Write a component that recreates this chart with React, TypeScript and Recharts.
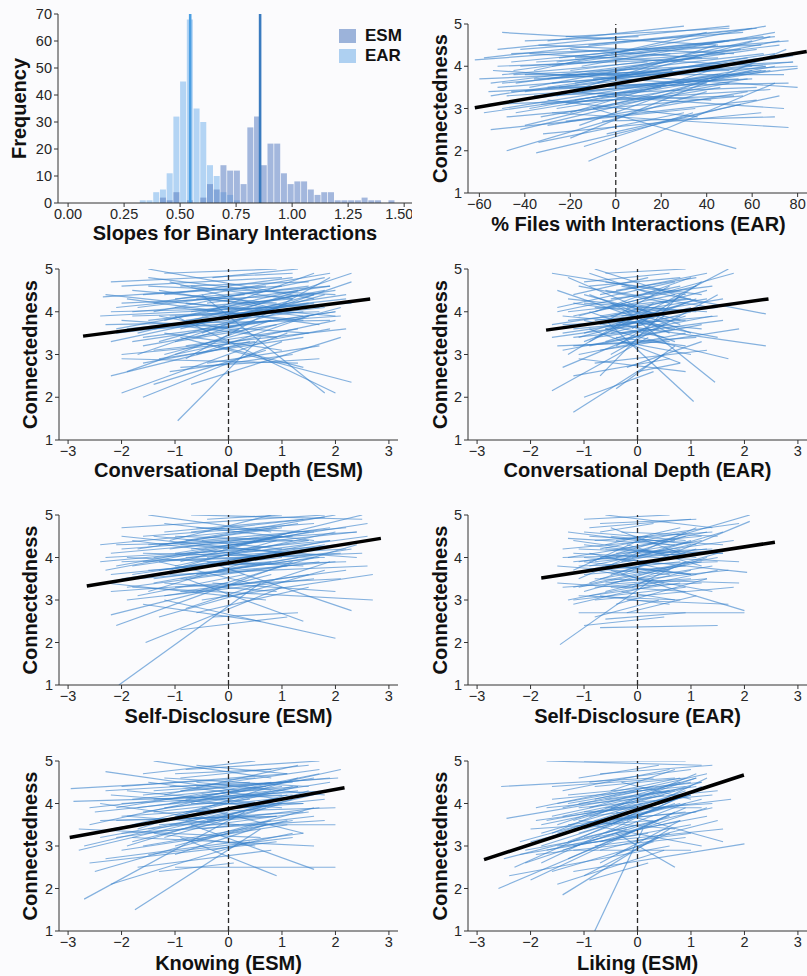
import React from "react";
import {
  ComposedChart,
  Bar,
  Line,
  XAxis,
  YAxis,
  ReferenceLine,
  Label,
} from "recharts";

const FONT = '"Liberation Sans", Arial, Helvetica, sans-serif';

// ---- histogram of person slopes (bin width 0.03) ----
const binMids = [
  0.335, 0.365, 0.395, 0.425, 0.455, 0.485, 0.515, 0.545, 0.575, 0.605,
  0.635, 0.665, 0.695, 0.725, 0.755, 0.785, 0.815, 0.845, 0.875, 0.905,
  0.935, 0.965, 0.995, 1.025, 1.055, 1.085, 1.115, 1.145, 1.175, 1.205,
  1.235, 1.265, 1.295, 1.325, 1.355, 1.385, 1.415, 1.445,
];
const esmFreq = [
  0, 0, 0, 2, 1, 4, 0, 1, 0, 2,
  7, 5, 14, 12, 12, 7, 28, 32, 14, 22,
  22, 11, 7, 8, 8, 5, 3, 4, 4, 1,
  1, 1, 1, 2, 1, 1, 0, 1,
];
const earFreq = [
  1, 1, 4, 5, 11, 32, 45, 68, 35, 30,
  14, 10, 4, 3, 1, 0, 0, 0, 0, 0,
  0, 0, 0, 0, 0, 0, 0, 0, 0, 0,
  0, 0, 0, 0, 0, 0, 0, 0,
];
const esmMeanSlope = 0.857;
const earMeanSlope = 0.545;
const freqTicks = [0, 10, 20, 30, 40, 50, 60, 70];
const slopeTicks = [0, 0.25, 0.5, 0.75, 1, 1.25, 1.5];

const centeredTicks = [-3, -2, -1, 0, 1, 2, 3];
const pctTicks = [-60, -40, -20, 0, 20, 40, 60, 80];
const connTicks = [1, 2, 3, 4, 5];

// person-level fitted lines: [x start, y start, x end, y end]
const filesEarLines = [
  [-58, 4.2, 62, 4.9], [-50, 4.8, 45, 4.5], [-55, 3.3, 70, 4.3], [-45, 3.8, 78, 4.1],
  [-40, 2.6, 60, 3.9], [-48, 2.0, 40, 3.4], [-35, 1.95, 55, 3.1], [-12, 1.75, 70, 3.6],
  [-20, 2.3, 75, 4.4], [-60, 3.7, 25, 3.9], [-52, 4.4, 50, 4.95], [-30, 4.6, 30, 4.95],
  [-25, 4.2, 65, 4.7], [-44, 3.2, 80, 3.95], [-38, 3.5, 72, 4.6], [-55, 2.5, 35, 3.0],
  [-10, 3.0, 53, 2.05], [-28, 2.9, 76, 2.55], [-33, 3.1, 68, 3.45], [-18, 3.6, 58, 4.2],
  [-42, 4.0, 48, 4.3], [-50, 3.0, 66, 4.0], [-22, 2.7, 62, 3.2], [-8, 3.3, 74, 3.0],
  [-36, 3.9, 40, 4.8], [-46, 3.4, 54, 3.7], [-15, 4.0, 70, 4.8], [-26, 3.3, 44, 4.5],
  [-58, 2.9, 20, 3.5], [-32, 2.4, 64, 2.9], [-4, 3.8, 80, 3.5], [-40, 4.6, 10, 4.7],
  [-54, 3.9, 30, 3.6], [-24, 3.8, 50, 3.9], [-16, 2.6, 46, 3.8], [-2, 4.3, 66, 4.95],
  [-30, 3.2, 36, 2.8], [-48, 2.8, 56, 3.3], [-12, 3.5, 78, 4.25], [-62, 4.15, 0, 4.4],
  [-20, 4.4, 38, 4.2], [-34, 2.2, 30, 2.9], [-6, 2.7, 70, 2.8], [-44, 3.6, 62, 4.4],
  [-26, 3.0, 58, 3.7], [-52, 3.5, 42, 3.9], [0, 3.9, 60, 4.6], [-38, 4.3, 66, 4.0],
  [-14, 2.1, 34, 2.9], [-56, 3.1, 52, 3.3], [-28, 4.0, 24, 4.3], [-10, 3.0, 46, 3.5],
  [-42, 2.5, 20, 3.3], [-22, 4.7, 50, 4.9], [-4, 2.4, 72, 3.3], [-46, 4.1, 70, 4.7],
  [-36, 3.7, 80, 4.0], [-18, 3.2, 64, 3.9], [-50, 3.8, 14, 4.1], [-30, 3.5, 76, 3.6],
  [-50, 3.6, 60, 4.1], [-40, 3.4, 70, 4.2], [-35, 4.1, 55, 4.4], [-30, 3.7, 65, 4.3],
  [-25, 3.5, 60, 4.0], [-45, 3.9, 50, 4.6], [-20, 3.9, 72, 4.5], [-38, 3.0, 45, 3.8],
  [-28, 3.6, 78, 4.1], [-48, 3.3, 40, 3.6], [-15, 3.4, 66, 3.9], [-42, 4.4, 56, 4.8],
  [-33, 2.8, 50, 3.6], [-22, 3.1, 70, 4.0], [-55, 3.6, 35, 4.2], [-10, 3.7, 80, 4.3],
  [-36, 3.3, 62, 3.5], [-26, 4.1, 48, 4.6], [-44, 2.9, 68, 3.9], [-18, 4.2, 76, 4.6],
  [-52, 4.0, 45, 4.2], [-30, 2.6, 58, 3.4], [-12, 4.5, 60, 4.9], [-40, 3.8, 74, 3.8],
  [-24, 3.4, 42, 3.2], [-46, 4.3, 64, 4.5], [-8, 3.6, 68, 4.7], [-34, 4.5, 52, 4.3],
  [-20, 2.9, 54, 4.1], [-56, 3.4, 60, 3.7],
];
const depthEsmLines = [
  [-2.2, 4.7, 1.2, 4.9], [-2.1, 3.6, 1.8, 4.5], [-1.9, 2.6, 0.8, 3.8], [-2.0, 2.1, 1.1, 3.5],
  [-1.6, 2.0, 1.0, 3.3], [-0.95, 1.45, 0.6, 3.4], [-2.3, 4.4, 1.4, 3.9], [-1.5, 5.0, 1.6, 4.3],
  [-1.2, 4.9, 0.9, 5.0], [-2.4, 3.9, 2.3, 4.2], [-1.8, 3.3, 2.0, 4.0], [-0.8, 2.9, 1.9, 4.8],
  [-1.4, 3.1, 2.2, 3.6], [-2.0, 3.0, 0.5, 3.3], [-0.6, 3.7, 2.3, 4.9], [-1.3, 4.5, 0.7, 4.1],
  [-0.5, 4.4, 1.8, 2.1], [-1.0, 3.9, 2.0, 2.1], [-0.9, 3.4, 2.3, 2.35], [-1.7, 4.1, 1.5, 4.6],
  [-2.1, 4.1, 0.3, 4.4], [-0.4, 4.0, 1.6, 4.9], [-1.1, 2.6, 1.2, 3.0], [-1.6, 2.8, 1.9, 3.6],
  [-0.7, 2.3, 2.1, 3.4], [-1.2, 3.5, 1.0, 3.1], [-2.2, 3.3, 0.8, 4.1], [-0.3, 4.8, 1.3, 5.0],
  [-1.5, 3.8, 2.2, 4.3], [-1.9, 4.3, 1.7, 3.7], [-0.8, 4.2, 2.0, 3.9], [-1.4, 2.3, 0.7, 3.1],
  [-0.2, 3.2, 1.4, 2.7], [-1.1, 4.7, 1.1, 4.0], [-2.0, 4.6, 1.0, 4.8], [-0.6, 3.0, 1.5, 3.9],
  [-1.3, 3.9, 0.4, 3.5], [-1.7, 3.5, 1.3, 4.4], [-0.9, 2.7, 1.7, 2.9], [-2.3, 3.7, 1.9, 3.8],
  [-0.5, 3.5, 2.3, 4.7], [-1.0, 4.3, 1.9, 4.6], [-1.6, 3.2, 0.2, 3.6], [-0.7, 4.6, 1.2, 4.3],
  [-1.2, 3.0, 2.1, 4.1], [-2.2, 2.5, 0.4, 3.3], [-0.4, 2.8, 1.7, 3.2], [-1.8, 3.9, 0.9, 4.0],
  [-1.4, 4.0, 1.8, 4.8], [-0.3, 3.6, 2.0, 4.0], [-2.0, 2.9, 1.3, 2.8], [-1.0, 3.3, 0.9, 3.7],
  [-1.5, 4.6, 2.0, 4.4], [-0.8, 3.8, 1.6, 4.2], [-2.35, 4.35, 0.7, 4.6],
  [-1.5, 3.6, 1.5, 4.2], [-1.2, 3.8, 1.3, 4.5], [-1.8, 4.0, 1.2, 4.3], [-0.9, 3.6, 1.6, 4.4],
  [-1.6, 4.4, 1.0, 4.6], [-1.0, 4.1, 1.4, 3.8], [-2.0, 3.8, 1.5, 3.5], [-0.7, 4.0, 2.0, 4.5],
  [-1.3, 3.3, 1.8, 4.4], [-1.7, 3.0, 1.1, 4.2], [-0.6, 4.3, 1.7, 4.1], [-1.4, 4.2, 1.9, 4.9],
  [-1.1, 3.7, 0.9, 3.4], [-2.1, 3.5, 1.4, 4.0], [-0.8, 3.2, 1.3, 3.6], [-1.5, 4.8, 0.5, 4.5],
  [-1.9, 3.6, 1.8, 4.1], [-0.5, 3.9, 2.2, 4.4], [-1.2, 4.4, 1.2, 4.8], [-1.6, 3.4, 0.8, 3.8],
  [-1.0, 3.0, 2.0, 3.8], [-2.2, 4.0, 1.0, 4.1], [-0.9, 4.6, 1.5, 4.7], [-1.4, 3.6, 2.1, 3.9],
  [-0.6, 3.4, 1.0, 4.0], [-1.8, 4.5, 0.9, 4.2], [-1.1, 3.9, 1.7, 4.0], [-0.4, 4.2, 1.9, 4.6],
  [-1.3, 2.9, 1.4, 3.4], [-2.0, 4.2, 1.6, 4.4],
];
const depthEarLines = [
  [-1.6, 4.9, 0.9, 4.4], [-1.6, 2.15, 0.2, 3.4], [-1.2, 1.65, 0.5, 3.0], [-1.0, 2.0, 0.3, 2.6],
  [-0.6, 3.8, 1.05, 1.9], [-0.2, 4.0, 1.45, 2.35], [-1.5, 4.5, 0.6, 3.6], [-1.3, 4.8, 0.4, 3.9],
  [-0.8, 5.0, 1.2, 4.2], [-0.6, 4.9, 0.9, 5.0], [-1.1, 3.9, 1.8, 4.9], [-0.9, 3.3, 1.7, 5.0],
  [-1.4, 3.5, 0.8, 3.9], [-0.5, 3.0, 1.5, 4.4], [-1.0, 4.2, 1.3, 4.0], [-0.3, 4.6, 2.4, 3.95],
  [-0.4, 3.7, 2.4, 3.2], [-1.4, 2.7, 0.5, 3.7], [-0.7, 2.5, 0.8, 4.4], [-1.2, 3.2, 1.1, 3.4],
  [-0.6, 3.6, 1.7, 2.9], [-1.5, 4.1, 0.7, 4.7], [-0.2, 2.7, 1.2, 3.3], [-0.9, 4.4, 1.0, 3.5],
  [-1.3, 3.0, 0.3, 4.2], [-0.5, 4.3, 1.4, 4.6], [-1.1, 2.9, 0.9, 2.6], [-0.8, 3.4, 1.6, 3.8],
  [-1.6, 3.7, 0.5, 4.1], [-0.3, 3.3, 1.0, 3.0], [-1.0, 4.7, 0.6, 4.9], [-0.7, 3.9, 1.3, 4.3],
  [-1.2, 4.4, 0.2, 4.8], [-0.4, 2.2, 0.7, 3.2], [-0.9, 3.6, 0.8, 2.8], [-1.4, 3.9, 1.2, 3.6],
  [-0.6, 4.1, 1.1, 4.6], [-0.2, 3.8, 1.5, 3.4], [-1.1, 3.4, 0.4, 3.9], [-0.8, 2.8, 1.3, 3.1],
  [-1.3, 4.0, 0.9, 4.3], [-0.5, 3.5, 1.0, 4.0], [-0.9, 4.9, 0.3, 4.4], [-1.5, 3.2, 0.6, 3.3],
  [-0.3, 4.2, 0.8, 3.7], [-0.7, 3.1, 1.9, 3.6], [-1.0, 3.8, 0.5, 3.4], [-0.1, 3.6, 1.2, 4.7],
  [-1.2, 2.5, 0.6, 2.9], [-0.6, 4.5, 1.4, 4.1], [-1.6, 3.4, 0.1, 3.7], [0.0, 2.6, 0.8, 2.8],
  [-0.8, 4.0, 1.0, 4.8], [-0.4, 3.2, 0.5, 3.9], [-1.2, 3.6, 1.5, 3.9],
  [-1.0, 3.5, 0.9, 4.2], [-0.8, 4.1, 1.1, 4.0], [-1.2, 3.9, 0.7, 4.4], [-0.6, 3.3, 0.9, 3.9],
  [-1.3, 4.3, 1.0, 4.0], [-0.5, 3.9, 1.3, 4.5], [-1.1, 4.6, 0.6, 4.2], [-0.9, 3.2, 1.2, 3.7],
  [-0.4, 4.5, 1.1, 4.8], [-1.4, 3.7, 0.9, 3.8], [-0.7, 3.7, 0.6, 4.6], [-1.0, 4.4, 0.8, 3.8],
  [-0.3, 3.5, 1.4, 3.9], [-1.2, 3.4, 0.4, 3.6], [-0.6, 4.7, 1.2, 4.4], [-0.9, 4.0, 0.7, 3.3],
  [-1.5, 4.0, 0.8, 4.6], [-0.2, 4.1, 1.0, 4.3], [-1.1, 3.0, 0.9, 3.5], [-0.8, 3.8, 1.5, 4.1],
  [-0.5, 4.2, 0.6, 3.5], [-1.3, 3.8, 0.6, 4.0], [-0.7, 4.4, 1.3, 4.9], [-1.0, 3.3, 1.1, 4.3],
  [-0.4, 3.4, 0.9, 3.2], [-1.2, 4.2, 0.5, 3.9], [-0.6, 3.6, 1.0, 4.1], [-0.9, 4.6, 0.8, 4.8],
  [-1.4, 3.1, 0.7, 3.6], [-0.3, 3.9, 1.6, 4.3],
];
const discEsmLines = [
  [-2.05, 1.0, 0.6, 3.4], [-1.55, 2.0, 1.0, 3.3], [-2.2, 2.65, 0.8, 3.6], [-2.1, 2.4, 1.2, 3.9],
  [-2.3, 3.7, 1.5, 4.6], [-2.4, 4.3, 0.9, 4.7], [-2.0, 4.7, 1.8, 5.0], [-1.5, 5.0, 0.8, 4.6],
  [-0.7, 5.0, 2.5, 4.9], [-1.0, 4.1, 2.6, 4.8], [-1.8, 3.3, 2.7, 3.0], [-1.2, 3.0, 2.0, 2.1],
  [-0.8, 3.5, 1.4, 2.5], [-0.4, 3.9, 2.3, 2.75], [-1.6, 3.9, 2.5, 4.1], [-2.2, 4.1, 0.5, 4.4],
  [-1.3, 2.6, 1.8, 3.7], [-0.9, 2.3, 1.1, 2.6], [-1.9, 3.0, 1.6, 3.5], [-0.6, 3.2, 2.4, 4.3],
  [-1.4, 4.5, 1.0, 4.2], [-2.0, 3.5, 0.2, 3.9], [-0.5, 4.4, 2.2, 4.7], [-1.1, 3.6, 2.6, 3.8],
  [-1.7, 4.2, 1.3, 4.8], [-0.3, 3.4, 2.0, 3.2], [-1.2, 4.8, 1.6, 4.4], [-2.3, 3.4, 0.7, 3.0],
  [-0.8, 2.8, 1.9, 3.9], [-1.5, 3.2, 0.9, 4.1], [-0.4, 4.0, 2.6, 4.5], [-1.9, 4.0, 1.4, 3.8],
  [-1.0, 3.3, 2.1, 3.5], [-0.7, 4.6, 1.8, 4.95], [-1.6, 2.9, 0.6, 2.5], [-2.1, 3.8, 1.0, 4.5],
  [-0.2, 3.7, 2.3, 4.2], [-1.3, 3.9, 0.4, 3.4], [-0.9, 4.3, 2.4, 4.0], [-1.8, 3.6, 2.0, 4.3],
  [-0.6, 2.7, 1.5, 3.3], [-1.1, 4.4, 0.8, 5.0], [-2.0, 4.5, 1.1, 4.1], [-0.5, 3.0, 2.7, 3.6],
  [-1.4, 3.5, 1.7, 4.0], [-0.3, 2.6, 1.3, 2.7], [-1.7, 3.1, 0.3, 3.6], [-0.9, 3.9, 1.2, 4.6],
  [-2.4, 3.9, 1.9, 4.4], [-0.1, 4.2, 2.5, 5.0], [-1.2, 3.4, 0.9, 3.2], [-0.7, 3.8, 2.2, 3.9],
  [-1.5, 4.3, 2.4, 4.6], [-2.2, 3.2, 0.0, 3.4], [-0.4, 4.9, 1.0, 5.0],
  [-1.8, 3.8, 1.5, 4.4], [-1.3, 3.7, 1.8, 4.3], [-2.0, 4.2, 1.2, 4.5], [-1.0, 3.8, 2.0, 4.6],
  [-1.6, 4.5, 1.6, 4.8], [-0.8, 4.0, 2.2, 4.2], [-1.4, 3.4, 1.3, 4.0], [-2.2, 3.6, 1.0, 4.0],
  [-1.1, 4.2, 1.9, 4.7], [-0.6, 3.6, 1.6, 4.0], [-1.7, 3.5, 2.0, 3.9], [-1.2, 4.6, 1.4, 4.9],
  [-0.9, 3.5, 1.7, 3.9], [-2.1, 4.3, 1.5, 4.4], [-1.5, 3.7, 0.8, 3.9], [-0.7, 4.2, 2.4, 4.6],
  [-1.9, 3.3, 1.1, 3.8], [-1.0, 4.5, 1.2, 4.4], [-1.4, 4.0, 2.3, 4.3], [-0.5, 3.8, 1.9, 4.4],
  [-2.3, 4.0, 0.6, 4.2], [-1.2, 3.1, 1.5, 3.6], [-0.8, 4.4, 2.0, 5.0], [-1.6, 4.1, 1.8, 4.0],
  [-1.1, 3.7, 0.9, 4.4], [-0.6, 4.7, 1.6, 4.6], [-1.8, 4.4, 0.7, 4.0], [-0.9, 3.2, 2.2, 3.7],
  [-1.3, 4.3, 1.0, 4.7], [-2.0, 3.9, 2.1, 4.1],
];
const discEarLines = [
  [-1.45, 1.95, 0.3, 3.5], [-0.7, 2.35, 1.5, 2.4], [-0.6, 2.55, 0.9, 2.7], [-1.1, 2.7, 2.0, 2.7],
  [-1.3, 4.45, 0.7, 4.3], [-1.0, 4.9, 0.6, 5.0], [-0.6, 5.0, 1.4, 4.7], [-0.9, 3.9, 2.1, 5.0],
  [-0.3, 3.6, 2.1, 4.85], [-1.2, 4.1, 1.9, 3.9], [-1.4, 3.3, 1.0, 3.5], [-0.8, 3.0, 1.8, 3.3],
  [-0.5, 3.7, 2.0, 2.75], [-1.3, 3.6, 0.8, 4.2], [-0.2, 4.3, 1.2, 3.8], [-1.0, 3.2, 1.5, 4.1],
  [-0.7, 4.2, 0.9, 4.6], [-1.5, 3.8, 0.6, 3.6], [-0.4, 2.9, 1.3, 3.5], [-1.1, 3.5, 1.1, 4.7],
  [-0.9, 4.5, 1.6, 4.3], [-0.3, 3.2, 0.7, 3.0], [-1.2, 2.9, 0.5, 3.4], [-0.6, 3.4, 1.7, 3.7],
  [-0.1, 4.0, 1.0, 4.4], [-1.0, 4.0, 0.4, 3.9], [-0.8, 3.7, 1.4, 3.2], [-1.4, 4.2, 1.2, 4.5],
  [-0.5, 4.7, 0.8, 4.1], [-0.2, 2.7, 1.1, 3.1], [-1.1, 3.9, 1.8, 4.4], [-0.7, 3.1, 0.6, 2.9],
  [-1.3, 3.0, 1.5, 3.7], [-0.4, 4.4, 1.9, 4.8], [-0.9, 3.4, 0.5, 4.0], [-0.6, 4.0, 2.05, 3.65],
  [-1.2, 3.7, 0.2, 4.5], [0.0, 3.5, 1.3, 4.0], [-0.8, 2.6, 0.4, 3.0], [-1.0, 4.3, 1.1, 4.0],
  [-0.3, 3.9, 1.6, 4.6], [-1.5, 3.4, 0.9, 3.2], [-0.5, 3.3, 1.2, 3.4], [-0.9, 4.7, 1.0, 4.9],
  [-0.2, 3.0, 1.7, 2.9], [-1.2, 3.3, 0.7, 3.8], [-0.6, 3.8, 1.0, 3.6], [-1.0, 2.4, 0.5, 2.6],
  [-0.4, 4.1, 1.4, 4.2], [-0.7, 4.6, 0.3, 4.8], [-1.4, 4.0, 1.6, 4.1], [-0.1, 3.3, 0.9, 3.9],
  [-0.8, 3.5, 1.9, 3.4], [-1.1, 3.1, 0.8, 3.0], [-0.3, 4.6, 1.5, 4.5],
  [-0.9, 3.8, 1.0, 4.3], [-0.7, 4.0, 1.2, 4.4], [-1.1, 4.2, 0.9, 4.1], [-0.5, 3.6, 1.1, 4.2],
  [-1.2, 3.9, 1.3, 4.2], [-0.6, 4.3, 0.8, 4.7], [-1.0, 3.6, 0.9, 3.8], [-0.8, 4.4, 1.4, 4.6],
  [-0.4, 3.8, 1.0, 3.6], [-1.3, 4.0, 0.7, 4.4], [-0.7, 3.5, 1.5, 4.0], [-0.9, 4.1, 0.6, 3.7],
  [-1.1, 3.3, 1.2, 3.9], [-0.5, 4.5, 1.1, 4.3], [-0.8, 3.9, 1.7, 4.2], [-1.4, 3.6, 0.8, 3.9],
  [-0.3, 4.2, 1.3, 4.6], [-1.0, 4.6, 0.9, 4.4], [-0.6, 3.2, 1.0, 3.7], [-1.2, 4.4, 0.5, 4.1],
  [-0.8, 3.3, 1.3, 3.5], [-0.4, 4.0, 0.9, 4.5], [-1.1, 3.8, 1.5, 3.9], [-0.7, 4.8, 1.1, 4.9],
  [-0.9, 3.1, 0.8, 3.4], [-1.3, 4.6, 0.6, 4.3], [-0.5, 3.4, 1.4, 3.8], [-1.0, 3.9, 1.1, 3.6],
  [-0.6, 4.2, 1.6, 4.1], [-1.2, 3.0, 0.9, 3.3],
];
const knowEsmLines = [
  [-2.95, 4.35, 0.5, 4.6], [-2.7, 1.75, 0.3, 3.8], [-1.75, 1.5, 0.6, 3.4], [-1.0, 2.5, 2.0, 2.5],
  [-0.7, 3.5, 1.6, 2.45], [-0.9, 3.2, 0.9, 2.3], [-2.8, 2.9, 1.2, 4.1], [-2.5, 2.4, 0.8, 3.6],
  [-2.2, 2.1, 0.4, 3.1], [-2.9, 4.05, 1.0, 4.2], [-2.3, 4.75, 0.2, 4.3], [-1.4, 5.0, 0.8, 4.6],
  [-0.8, 4.8, 1.7, 5.0], [-1.2, 4.2, 1.3, 4.9], [-2.6, 3.5, 2.1, 4.8], [-1.9, 3.0, 1.5, 4.3],
  [-2.0, 4.4, 1.1, 4.7], [-1.6, 3.8, 1.9, 4.5], [-2.4, 3.2, 0.6, 3.9], [-1.1, 3.5, 2.0, 3.5],
  [-0.5, 3.9, 1.4, 3.3], [-1.5, 2.8, 1.2, 3.2], [-2.1, 3.6, 0.9, 3.7], [-1.3, 2.4, 0.1, 2.6],
  [-0.6, 4.5, 1.8, 4.2], [-2.7, 3.0, 0.0, 3.8], [-1.8, 4.1, 0.7, 4.4], [-1.0, 3.0, 1.6, 3.9],
  [-2.2, 4.2, 1.0, 3.9], [-0.4, 3.6, 1.9, 4.3], [-1.4, 3.3, 0.5, 3.0], [-2.5, 3.8, 1.3, 4.3],
  [-1.7, 2.5, 0.8, 2.9], [-0.9, 4.6, 1.5, 4.9], [-2.0, 3.3, 1.8, 3.6], [-1.2, 3.9, 0.4, 4.1],
  [-2.8, 3.4, 0.6, 3.2], [-0.7, 3.1, 1.1, 3.6], [-1.5, 4.5, 1.0, 4.1], [-2.3, 2.7, 1.4, 3.3],
  [-1.1, 4.0, 1.7, 4.7], [-0.3, 2.9, 1.2, 3.3], [-1.9, 3.7, 0.2, 3.5], [-2.6, 2.6, 0.9, 3.1],
  [-0.8, 3.8, 2.0, 3.9], [-1.6, 4.7, 0.5, 5.0], [-1.3, 3.6, 1.4, 3.8], [-2.1, 3.9, 0.8, 4.5],
  [-0.5, 4.2, 1.3, 4.4], [-1.8, 3.2, 1.6, 3.0], [-2.4, 4.0, -0.2, 3.6], [-1.0, 2.8, 0.7, 3.5],
  [-0.6, 4.9, 1.1, 4.7], [-2.0, 2.9, 1.1, 3.5], [-1.4, 4.3, 2.05, 4.6],
  [-1.8, 3.5, 1.2, 4.4], [-1.4, 3.8, 1.5, 4.2], [-2.2, 3.4, 0.9, 4.1], [-1.0, 3.7, 1.3, 4.4],
  [-1.6, 4.2, 1.0, 4.5], [-0.8, 4.1, 1.6, 4.6], [-2.0, 3.7, 1.4, 4.0], [-1.2, 3.2, 1.0, 4.0],
  [-0.6, 3.8, 1.8, 4.1], [-1.7, 3.9, 0.8, 4.3], [-2.4, 3.6, 0.5, 3.7], [-1.1, 4.4, 1.2, 4.5],
  [-1.5, 3.4, 1.7, 3.9], [-0.9, 4.3, 1.9, 4.6], [-1.9, 4.3, 0.6, 4.0], [-1.3, 3.5, 0.9, 3.7],
  [-2.6, 3.9, 1.0, 4.4], [-0.7, 4.0, 1.4, 4.0], [-1.6, 3.0, 1.2, 3.6], [-1.0, 4.7, 0.8, 4.8],
  [-2.1, 3.2, 1.5, 3.8], [-0.5, 3.4, 1.6, 3.7], [-1.4, 4.1, 1.9, 4.3], [-1.8, 3.1, 0.7, 3.9],
  [-0.8, 3.6, 1.1, 4.2], [-2.3, 4.3, 0.4, 4.5], [-1.2, 4.6, 1.5, 4.4], [-1.7, 3.4, 1.3, 4.6],
  [-0.6, 4.4, 1.7, 4.8], [-2.0, 4.0, 1.2, 4.2],
];
const likeEsmLines = [
  [-2.6, 2.0, 0.4, 3.6], [-2.45, 3.65, 0.6, 4.3], [-2.55, 4.4, 0.3, 4.6], [-0.8, 1.0, 0.1, 3.4],
  [-1.7, 5.0, 1.2, 4.9], [-1.0, 5.0, 0.9, 5.0], [-0.7, 4.7, 1.4, 4.9], [-2.0, 2.2, 0.7, 3.8],
  [-1.4, 1.85, 0.6, 3.4], [-1.8, 2.6, 1.2, 4.4], [-2.2, 3.1, 1.0, 4.2], [-1.2, 2.4, 2.0, 3.05],
  [-0.9, 3.7, 1.75, 4.1], [-1.5, 3.0, 1.6, 3.4], [-0.4, 3.3, 0.7, 2.5], [-1.9, 3.9, 0.8, 4.6],
  [-1.6, 3.3, 1.1, 4.7], [-1.3, 2.7, 0.9, 3.9], [-2.3, 2.5, 0.2, 3.9], [-1.1, 3.9, 1.4, 4.2],
  [-0.7, 2.9, 1.5, 3.6], [-1.7, 3.6, 0.5, 4.1], [-0.5, 3.5, 1.3, 4.6], [-2.1, 2.9, 1.3, 3.7],
  [-1.0, 2.3, 0.4, 3.2], [-1.4, 4.3, 0.6, 4.8], [-0.8, 3.0, 1.0, 3.3], [-1.9, 2.8, 0.9, 3.2],
  [-0.6, 4.1, 1.1, 4.4], [-1.2, 3.4, 0.8, 4.0], [-2.0, 3.4, 0.3, 3.6], [-0.4, 3.8, 1.6, 3.1],
  [-1.5, 2.1, 0.5, 2.9], [-1.1, 4.6, 0.4, 4.9], [-0.9, 3.5, 1.2, 3.0], [-1.7, 3.9, 1.5, 4.3],
  [-0.3, 4.5, 1.0, 4.1], [-1.3, 3.1, 0.2, 3.8], [-2.4, 2.3, 0.6, 3.0], [-0.7, 2.6, 0.8, 3.6],
  [-1.6, 4.1, 0.9, 4.4], [-1.0, 3.2, 1.4, 3.9], [-0.5, 4.3, 0.7, 4.8], [-1.8, 3.3, 0.1, 4.0],
  [-1.2, 2.9, 1.0, 2.9], [-0.6, 3.9, 1.2, 3.9], [-1.4, 3.7, 0.5, 4.2], [-2.1, 2.6, -0.2, 3.4],
  [-0.2, 3.6, 1.1, 4.3], [-0.8, 4.4, 0.9, 4.6], [-1.6, 2.4, 0.3, 3.1], [-1.1, 3.6, 0.7, 3.4],
  [-0.4, 2.8, 0.6, 3.3], [-1.3, 4.0, 1.0, 4.5], [-0.9, 2.2, 0.2, 2.6],
  [-1.5, 3.3, 0.9, 4.3], [-1.2, 3.6, 1.0, 4.4], [-1.8, 3.0, 0.7, 4.0], [-0.9, 3.9, 1.1, 4.6],
  [-1.4, 3.9, 0.8, 4.5], [-1.0, 3.4, 1.2, 4.1], [-1.6, 3.7, 0.6, 4.3], [-0.7, 3.6, 1.0, 4.2],
  [-2.0, 3.1, 0.5, 3.9], [-1.3, 3.5, 0.9, 3.8], [-0.8, 4.1, 1.3, 4.7], [-1.7, 2.9, 0.8, 3.6],
  [-1.1, 4.0, 0.7, 4.3], [-1.5, 3.5, 1.1, 4.6], [-0.6, 3.3, 0.9, 4.0], [-1.9, 3.6, 0.4, 4.0],
  [-1.2, 3.0, 1.0, 3.5], [-0.9, 4.5, 1.0, 4.8], [-1.4, 2.9, 0.6, 3.7], [-1.0, 3.8, 1.4, 4.0],
  [-2.2, 2.8, 0.2, 3.3], [-0.5, 3.9, 1.2, 4.5], [-1.6, 4.4, 0.7, 4.6], [-1.1, 3.3, 0.5, 3.9],
  [-0.8, 3.6, 1.1, 3.8], [-1.8, 3.5, 0.9, 4.2], [-1.3, 4.2, 1.2, 4.5], [-0.7, 3.1, 1.3, 3.9],
  [-1.5, 4.0, 0.3, 4.4], [-2.5, 2.7, 0.0, 3.5],
];

// average (fixed-effect) lines
const filesEarFixed = [-62, 3.02, 84, 4.35];
const depthEsmFixed = [-2.72, 3.43, 2.65, 4.3];
const depthEarFixed = [-1.71, 3.57, 2.45, 4.3];
const discEsmFixed = [-2.65, 3.33, 2.85, 4.45];
const discEarFixed = [-1.8, 3.52, 2.57, 4.36];
const knowEsmFixed = [-2.97, 3.2, 2.17, 4.37];
const likeEsmFixed = [-2.87, 2.68, 1.99, 4.67];

const AXIS = "#333333";
const TICK_TEXT = "#262626";
const TITLE = "#111111";

const fmtTick = (v: number) => String(v).replace("-", "\u2212");
const toPts = (s: number[]) => [
  { x: s[0], y: s[1] },
  { x: s[2], y: s[3] },
];

const tickStyle = { fill: TICK_TEXT, fontSize: 14.5 };

interface PanelProps {
  left: number;
  top: number;
  width: number;
  height: number;
  marginTop: number;
  marginRight: number;
  yAxisWidth: number;
  xAxisHeight: number;
  xDomain: [number, number];
  xTicks: number[];
  lines: number[][];
  fixed: number[];
  xTitle: string;
  xTitleOffset: number;
  yTitleOffset: number;
}

const SpaghettiPanel: React.FC<PanelProps> = (p) => (
  <div style={{ position: "absolute", left: p.left, top: p.top }}>
    <ComposedChart
      width={p.width}
      height={p.height}
      margin={{ top: p.marginTop, right: p.marginRight, bottom: 0, left: 0 }}
    >
      <XAxis
        dataKey="x"
        type="number"
        domain={p.xDomain}
        ticks={p.xTicks}
        allowDataOverflow
        tickFormatter={fmtTick}
        height={p.xAxisHeight}
        stroke={AXIS}
        tickSize={4}
        tickMargin={2}
        tick={tickStyle}
      >
        <Label
          value={p.xTitle}
          position="insideBottom"
          offset={p.xTitleOffset}
          fontSize={20}
          fontWeight={700}
          fill={TITLE}
        />
      </XAxis>
      <YAxis
        type="number"
        domain={[1, 5]}
        ticks={connTicks}
        allowDataOverflow
        width={p.yAxisWidth}
        stroke={AXIS}
        tickSize={4}
        tickMargin={2}
        tick={tickStyle}
      >
        <Label
          value="Connectedness"
          angle={-90}
          position="insideLeft"
          offset={p.yTitleOffset}
          fontSize={20}
          fontWeight={700}
          fill={TITLE}
          style={{ textAnchor: "middle" }}
        />
      </YAxis>
      {p.lines.map((s, i) => (
        <Line
          key={`l-${i}`}
          data={toPts(s)}
          dataKey="y"
          type="linear"
          stroke="#3a82cb"
          strokeOpacity={0.62}
          strokeWidth={1.2}
          dot={false}
          activeDot={false}
          legendType="none"
          isAnimationActive={false}
        />
      ))}
      <ReferenceLine x={0} stroke="#2b2b2b" strokeWidth={1.3} strokeDasharray="5 3" />
      <Line
        data={toPts(p.fixed)}
        dataKey="y"
        type="linear"
        stroke="#000000"
        strokeWidth={3.5}
        dot={false}
        activeDot={false}
        legendType="none"
        isAnimationActive={false}
      />
    </ComposedChart>
  </div>
);

const histData = binMids.map((x, i) => ({ x, esm: esmFreq[i], ear: earFreq[i] }));

const SlopeHistogram: React.FC = () => (
  <div style={{ position: "absolute", left: 0, top: 0 }}>
    <ComposedChart
      width={412}
      height={246}
      data={histData}
      margin={{ top: 14, right: 0, bottom: 0, left: 0 }}
    >
      <XAxis
        xAxisId="esm"
        dataKey="x"
        type="number"
        domain={[-0.045, 1.535]}
        ticks={slopeTicks}
        allowDataOverflow
        tickFormatter={(v: number) => v.toFixed(2)}
        height={43}
        stroke={AXIS}
        tickSize={4}
        tickMargin={2}
        tick={tickStyle}
      >
        <Label
          value="Slopes for Binary Interactions"
          position="insideBottom"
          offset={6.5}
          fontSize={20}
          fontWeight={700}
          fill={TITLE}
        />
      </XAxis>
      <XAxis
        xAxisId="ear"
        dataKey="x"
        type="number"
        orientation="top"
        domain={[-0.045, 1.535]}
        allowDataOverflow
        hide
        height={0}
      />
      <YAxis
        type="number"
        domain={[0, 70]}
        ticks={freqTicks}
        allowDataOverflow
        width={58}
        stroke={AXIS}
        tickSize={4}
        tickMargin={2}
        tick={tickStyle}
      >
        <Label
          value="Frequency"
          angle={-90}
          position="insideLeft"
          offset={19}
          fontSize={20}
          fontWeight={700}
          fill={TITLE}
          style={{ textAnchor: "middle" }}
        />
      </YAxis>
      <Bar
        xAxisId="ear"
        dataKey="ear"
        name="EAR"
        barSize={6}
        fill="#5ba3e8"
        fillOpacity={0.45}
        isAnimationActive={false}
      />
      <Bar
        xAxisId="esm"
        dataKey="esm"
        name="ESM"
        barSize={6}
        fill="#5b80c2"
        fillOpacity={0.55}
        isAnimationActive={false}
      />
      <ReferenceLine xAxisId="esm" x={earMeanSlope} stroke="#4c9fe2" strokeWidth={2.6} />
      <ReferenceLine xAxisId="esm" x={esmMeanSlope} stroke="#3a7bbf" strokeWidth={2.6} />
    </ComposedChart>
    <div
      style={{
        position: "absolute",
        left: 339,
        top: 26,
        fontWeight: 700,
        fontSize: 17,
        color: "#111",
        lineHeight: "20px",
      }}
    >
      {[
        { name: "ESM", color: "#9cb3da" },
        { name: "EAR", color: "#aed0f1" },
      ].map((k) => (
        <div key={k.name} style={{ display: "flex", alignItems: "center", height: 20 }}>
          <span
            style={{
              display: "inline-block",
              width: 17,
              height: 14,
              background: k.color,
              marginRight: 9,
            }}
          />
          <span>{k.name}</span>
        </div>
      ))}
    </div>
  </div>
);

export default function App() {
  return (
    <div
      style={{
        position: "absolute",
        left: 0,
        top: 0,
        width: 807,
        height: 976,
        background: "#fbfbfd",
        fontFamily: FONT,
        overflow: "hidden",
      }}
    >
      <SlopeHistogram />
      <SpaghettiPanel
        left={410} top={0} width={399} height={241} marginTop={24} marginRight={0}
        yAxisWidth={58} xAxisHeight={48} xDomain={[-65, 85]} xTicks={pctTicks}
        lines={filesEarLines} fixed={filesEarFixed}
        xTitle="% Files with Interactions (EAR)" xTitleOffset={10.5} yTitleOffset={30}
      />
      <SpaghettiPanel
        left={0} top={250} width={406} height={235} marginTop={19} marginRight={8}
        yAxisWidth={59} xAxisHeight={45} xDomain={[-3.17, 3.17]} xTicks={centeredTicks}
        lines={depthEsmLines} fixed={depthEsmFixed}
        xTitle="Conversational Depth (ESM)" xTitleOffset={8} yTitleOffset={30}
      />
      <SpaghettiPanel
        left={410} top={250} width={397} height={235} marginTop={19} marginRight={0}
        yAxisWidth={58} xAxisHeight={45} xDomain={[-3.17, 3.17]} xTicks={centeredTicks}
        lines={depthEarLines} fixed={depthEarFixed}
        xTitle="Conversational Depth (EAR)" xTitleOffset={8} yTitleOffset={30}
      />
      <SpaghettiPanel
        left={0} top={495} width={406} height={235} marginTop={20} marginRight={8}
        yAxisWidth={59} xAxisHeight={45} xDomain={[-3.17, 3.17]} xTicks={centeredTicks}
        lines={discEsmLines} fixed={discEsmFixed}
        xTitle="Self-Disclosure (ESM)" xTitleOffset={7} yTitleOffset={30}
      />
      <SpaghettiPanel
        left={410} top={495} width={397} height={235} marginTop={20} marginRight={0}
        yAxisWidth={58} xAxisHeight={45} xDomain={[-3.17, 3.17]} xTicks={centeredTicks}
        lines={discEarLines} fixed={discEarFixed}
        xTitle="Self-Disclosure (EAR)" xTitleOffset={7} yTitleOffset={30}
      />
      <SpaghettiPanel
        left={0} top={740} width={406} height={235} marginTop={21} marginRight={8}
        yAxisWidth={59} xAxisHeight={44} xDomain={[-3.17, 3.17]} xTicks={centeredTicks}
        lines={knowEsmLines} fixed={knowEsmFixed}
        xTitle="Knowing (ESM)" xTitleOffset={5} yTitleOffset={30}
      />
      <SpaghettiPanel
        left={410} top={740} width={397} height={235} marginTop={21} marginRight={0}
        yAxisWidth={58} xAxisHeight={44} xDomain={[-3.17, 3.17]} xTicks={centeredTicks}
        lines={likeEsmLines} fixed={likeEsmFixed}
        xTitle="Liking (ESM)" xTitleOffset={5} yTitleOffset={30}
      />
    </div>
  );
}
